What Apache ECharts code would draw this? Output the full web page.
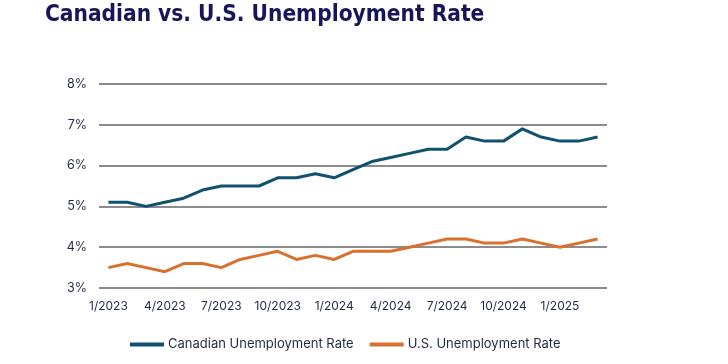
<!DOCTYPE html>
<html><head><meta charset="utf-8">
<script src="https://cdn.jsdelivr.net/npm/echarts@6/dist/echarts.min.js"></script>
<style>html,body{margin:0;padding:0;background:#fff}#c{width:728px;height:364px}</style>
</head><body><div id="c"></div>
<script>
const months = ['1/2023','2/2023','3/2023','4/2023','5/2023','6/2023','7/2023','8/2023','9/2023','10/2023','11/2023','12/2023',
'1/2024','2/2024','3/2024','4/2024','5/2024','6/2024','7/2024','8/2024','9/2024','10/2024','11/2024','12/2024',
'1/2025','2/2025','3/2025'];
const canada = [5.1,5.1,5.0,5.1,5.2,5.4,5.5,5.5,5.5,5.7,5.7,5.8,5.7,5.9,6.1,6.2,6.3,6.4,6.4,6.7,6.6,6.6,6.9,6.7,6.6,6.6,6.7];
const us = [3.5,3.6,3.5,3.4,3.6,3.6,3.5,3.7,3.8,3.9,3.7,3.8,3.7,3.9,3.9,3.9,4.0,4.1,4.2,4.2,4.1,4.1,4.2,4.1,4.0,4.1,4.2];
const seriesNames = ['Canadian Unemployment Rate','U.S. Unemployment Rate'];
const labelFont = 'Inter';
const chart = echarts.init(document.getElementById('c'));
chart.setOption({
  animation:false,
  title:{text:'Canadian vs. U.S. Unemployment Rate',left:40,top:-1,
    textStyle:{fontFamily:'DejaVu Sans Condensed',fontWeight:'bold',fontSize:22.5,color:'#17165a'}},
  grid:{left:99,right:121,top:84,bottom:76},
  legend:{left:125,top:333,itemWidth:34,itemHeight:4,itemGap:16,icon:'rect',
    textStyle:{fontFamily:labelFont,fontSize:13,color:'#1f2a44',padding:[0,0,0,-1]},
    data:seriesNames},
  xAxis:{type:'category',data:months,boundaryGap:true,
    axisLine:{show:false},axisTick:{show:false},
    axisLabel:{interval:2,margin:12,fontFamily:labelFont,fontSize:12,color:'#1f2a44'}},
  yAxis:{type:'value',min:3,max:8,interval:1,
    axisLabel:{formatter:v=>v+'%',margin:12,fontFamily:labelFont,fontSize:12.5,color:'#1f2a44'},
    axisLine:{show:false},axisTick:{show:false},
    splitLine:{lineStyle:{color:'#8c8c8c',width:2}}},
  series:[
    {name:seriesNames[0],type:'line',data:canada,symbol:'none',lineStyle:{width:3,color:'#10516f'},itemStyle:{color:'#10516f'}},
    {name:seriesNames[1],type:'line',data:us,symbol:'none',lineStyle:{width:3,color:'#d8702e'},itemStyle:{color:'#d8702e'}}
  ]
});
</script></body></html>
